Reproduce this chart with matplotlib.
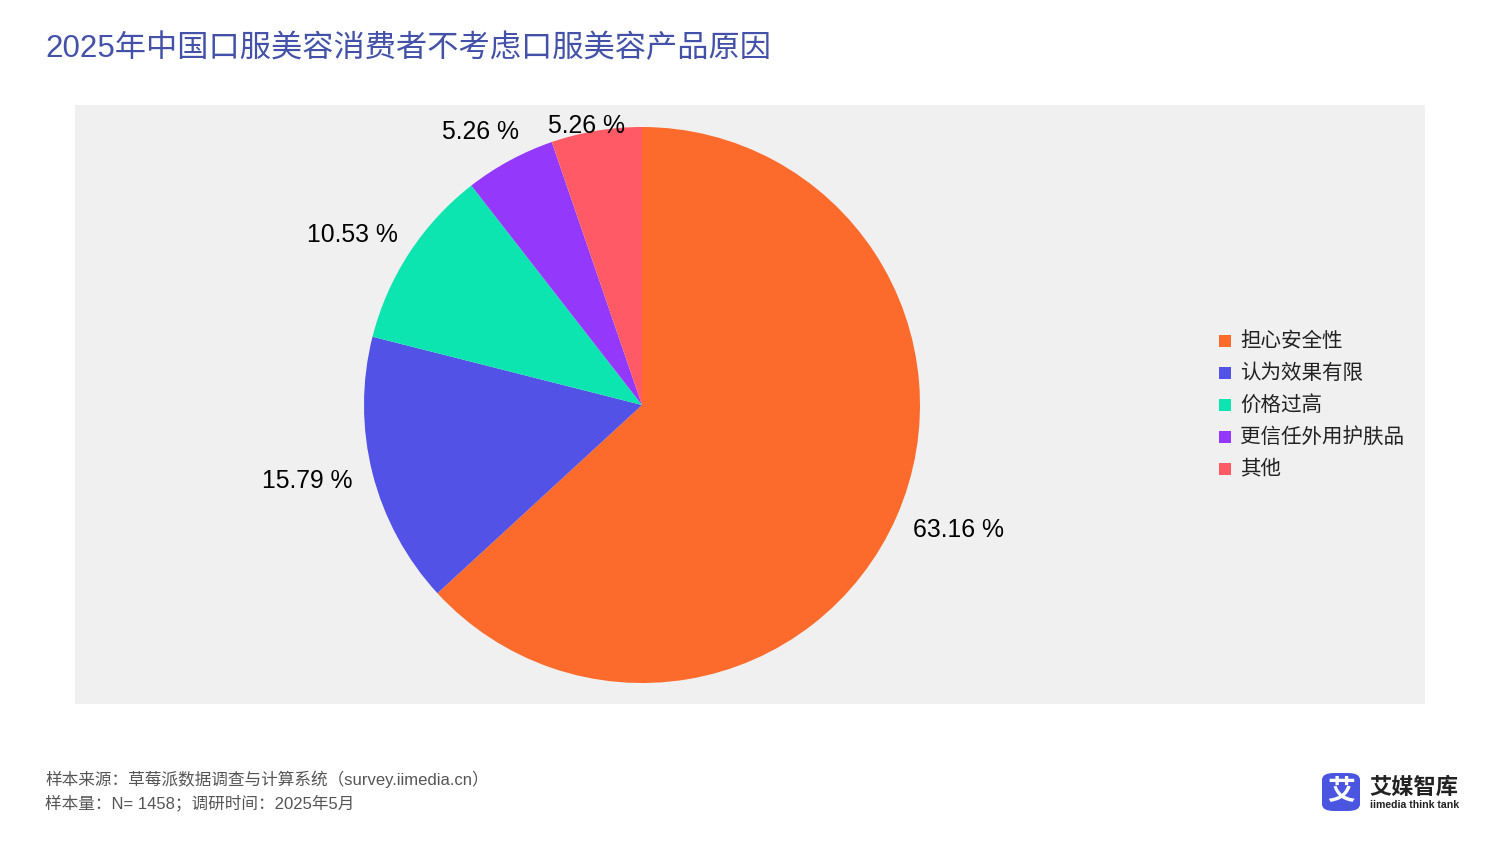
import numpy as np
import matplotlib
matplotlib.use('Agg')
import matplotlib.pyplot as plt
from matplotlib.patches import Rectangle, FancyBboxPatch

plt.rcParams['font.family'] = ['Liberation Sans', 'Noto Sans CJK SC', 'DejaVu Sans']

# data
categories = ['担心安全性', '认为效果有限', '价格过高', '更信任外用护肤品', '其他']
shares = [63.16, 15.79, 10.53, 5.26, 5.26]
colors = ['#FC6B2C', '#5352E6', '#0CE5AF', '#9439FB', '#FF5A65']

title = '2025年中国口服美容消费者不考虑口服美容产品原因'
source_lines = ['样本来源：草莓派数据调查与计算系统（survey.iimedia.cn）',
                '样本量：N= 1458；调研时间：2025年5月']

W, H = 1500, 844
fig = plt.figure(figsize=(W / 100, H / 100), dpi=100)
fig.patch.set_facecolor('white')

# gray plot background (px 75..1425 x 105..704)
plot_top = 105
fig.patches.append(Rectangle((75 / W, 1 - 704 / H), 1350 / W, 599 / H,
                             transform=fig.transFigure, facecolor='#f0f0f0',
                             edgecolor='none', zorder=-5))

# pie axes: center (642, 405), radius 278 px
R = 278
cy = 405
lim = 1.4
side = 2 * R * lim
ax = fig.add_axes([(642 - side / 2) / W, 1 - (cy + side / 2) / H, side / W, side / H])
ax.set_zorder(1)

wedges, _ = ax.pie(shares, colors=colors, startangle=90, counterclock=False,
                   radius=1, wedgeprops=dict(linewidth=0))
ax.set_xlim(-lim, lim)
ax.set_ylim(-lim, lim)
ax.set_aspect('equal')
ax.axis('off')

# outside labels
fig.canvas.draw()
renderer = fig.canvas.get_renderer()
for w, v in zip(wedges, shares):
    ang = np.deg2rad((w.theta1 + w.theta2) / 2)
    t = ax.text(0, 0, f'{v:.2f} %', fontsize=17.8, color='black',
                ha='center', va='center')
    bb = t.get_window_extent(renderer)
    hw = bb.width / 2
    x = np.cos(ang) * (R + hw + 22) / R
    y = np.sin(ang) * (R + 32) / R
    # keep the label inside the plotting area
    y_max = (cy - plot_top - 21) / R
    y = min(y, y_max)
    t.set_position((x, y))

# legend
for i, (c, lab) in enumerate(zip(colors, categories)):
    y = 1 - (341 + 32 * i) / H
    fig.patches.append(Rectangle((1219 / W, y - 6 / H), 12 / W, 12 / H,
                                 transform=fig.transFigure, facecolor=c,
                                 edgecolor='none', zorder=2))
    fig.text(1240 / W, y, lab, fontsize=14.8, color='#222222', va='center', ha='left')

# title
fig.text(45 / W, 1 - 49 / H, title, fontsize=22.5, color='#4351A8', va='center', ha='left')

# footer
for i, line in enumerate(source_lines):
    fig.text(45 / W, 1 - (779 + 24 * i) / H, line, fontsize=12, color='#555555',
             va='center', ha='left')

# logo
fig.patches.append(FancyBboxPatch((1322 / W, 1 - 811 / H), 38 / W, 38 / H,
                                  boxstyle='round,pad=0,rounding_size=0.008',
                                  transform=fig.transFigure, facecolor='#4B56E0',
                                  edgecolor='none', zorder=2))
fig.text(1341 / W, 1 - 792 / H, '艾', fontsize=20, color='white', weight='bold',
         ha='center', va='center', family=['Noto Sans CJK SC'])
fig.text(1369 / W, 1 - 787 / H, '艾媒智库', fontsize=16, color='#222222', weight='bold',
         ha='left', va='center', family=['Noto Sans CJK SC'])
fig.text(1370 / W, 1 - 805 / H, 'iimedia think tank', fontsize=7.6, color='#222222',
         weight='bold', ha='left', va='center')

fig.savefig('out.png', dpi=100)
